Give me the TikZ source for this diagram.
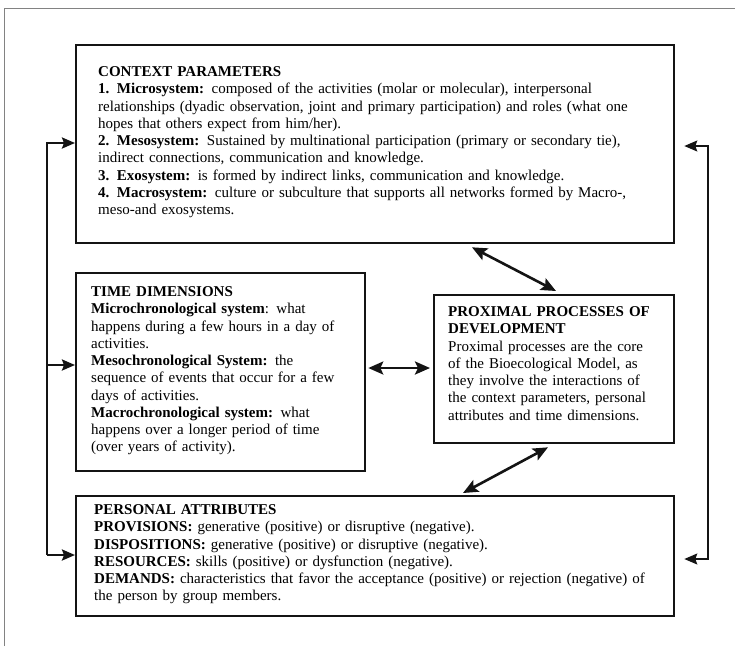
\documentclass[tikz,border=0pt]{standalone}
\usepackage{fontspec}
\setmainfont{Liberation Serif}
\usetikzlibrary{arrows.meta,calc}
\begin{document}
\begin{tikzpicture}[x=1pt,y=-1pt,
  boxst/.style={draw=black!92, line width=2.3pt, inner sep=0pt, anchor=north west},
  txt/.style={anchor=base west, inner sep=0pt, align=left, font=\fontsize{15pt}{17.25pt}\selectfont},
  dbl/.style={draw=black!92, line width=2.6pt, {Stealth[length=15pt,width=13pt,inset=3pt]}-{Stealth[length=15pt,width=13pt,inset=3pt]}},
  lbr/.style={draw=black!92, line width=2.4pt, line join=miter, -{Stealth[length=13pt,width=11pt,inset=2pt]}},
  rbr/.style={draw=black!92, line width=1.6pt, line join=miter, -{Stealth[length=13pt,width=11pt,inset=2pt]}},
  frame/.style={draw={rgb,255:red,130;green,130;blue,130}, line width=1pt}]
\useasboundingbox (0,0) rectangle (735,646);
\draw[frame] (4,646) -- (4,8) -- (735,8);

% boxes
\node[boxst, minimum width=598pt, minimum height=198pt] (ctx) at (75,44) {};
\node[boxst, minimum width=289pt, minimum height=198pt] (time) at (75,272) {};
\node[boxst, minimum width=240pt, minimum height=148pt] (prox) at (433,294) {};
\node[boxst, minimum width=598pt, minimum height=120pt] (pers) at (75,495) {};

% texts
\node[txt, text width=590pt] (ctxt) at (98,76.5) {\textbf{CONTEXT PARAMETERS}\\
\textbf{1. Microsystem:} composed of the activities (molar or molecular), interpersonal\\
relationships (dyadic observation, joint and primary participation) and roles (what one\\
hopes that others expect from him/her).\\
\textbf{2. Mesosystem:} Sustained by multinational participation (primary or secondary tie),\\
indirect connections, communication and knowledge.\\
\textbf{3. Exosystem:} is formed by indirect links, communication and knowledge.\\
\textbf{4. Macrosystem:} culture or subculture that supports all networks formed by Macro-,\\
meso-and exosystems.};

\node[txt, text width=285pt] (timet) at (91,296.5) {\textbf{TIME DIMENSIONS}\\
\textbf{Microchronological system}: what\\
happens during a few hours in a day of\\
activities.\\
\textbf{Mesochronological System:} the\\
sequence of events that occur for a few\\
days of activities.\\
\textbf{Macrochronological system:} what\\
happens over a longer period of time\\
(over years of activity).};

\node[txt, text width=235pt] (proxt) at (448,316.5) {\textbf{PROXIMAL PROCESSES OF}\\
\textbf{DEVELOPMENT}\\
Proximal processes are the core\\
of the Bioecological Model, as\\
they involve the interactions of\\
the context parameters, personal\\
attributes and time dimensions.};

\node[txt, text width=590pt] (perst) at (94,514.5) {\textbf{PERSONAL ATTRIBUTES}\\
\textbf{PROVISIONS:} generative (positive) or disruptive (negative).\\
\textbf{DISPOSITIONS:} generative (positive) or disruptive (negative).\\
\textbf{RESOURCES:} skills (positive) or dysfunction (negative).\\
\textbf{DEMANDS:} characteristics that favor the acceptance (positive) or rejection (negative) of\\
the person by group members.};

% left bracket
\coordinate (lb1) at (47,143);
\coordinate (lb2) at (47,365);
\coordinate (lb3) at (47,555);
\draw[lbr] (lb3) -- (lb1) -- (lb1 -| ctx.west);
\draw[lbr] (lb2) -- (lb2 -| time.west);
\draw[lbr] (lb3) -- (lb3 -| pers.west);

% right bracket
\coordinate (rb1) at (708,146);
\coordinate (rb2) at (708,559);
\draw[rbr] (rb2) -- (rb1) -- ($(rb1 -| ctx.east)+(9,0)$);
\draw[rbr] (rb1) -- (rb2) -- ($(rb2 -| pers.east)+(9,0)$);

% double arrows
\coordinate (mid) at (0,368);
\draw[dbl] ($(mid -| time.east)+(2,0)$) -- ($(mid -| prox.west)+(-3,0)$);
\draw[dbl] ([xshift=397pt,yshift=-3pt]ctx.south west) -- ([xshift=123pt,yshift=3pt]prox.north west);
\draw[dbl] ([xshift=115pt,yshift=-3pt]prox.south west) -- ([xshift=388pt,yshift=2pt]pers.north west);
\end{tikzpicture}
\end{document}
